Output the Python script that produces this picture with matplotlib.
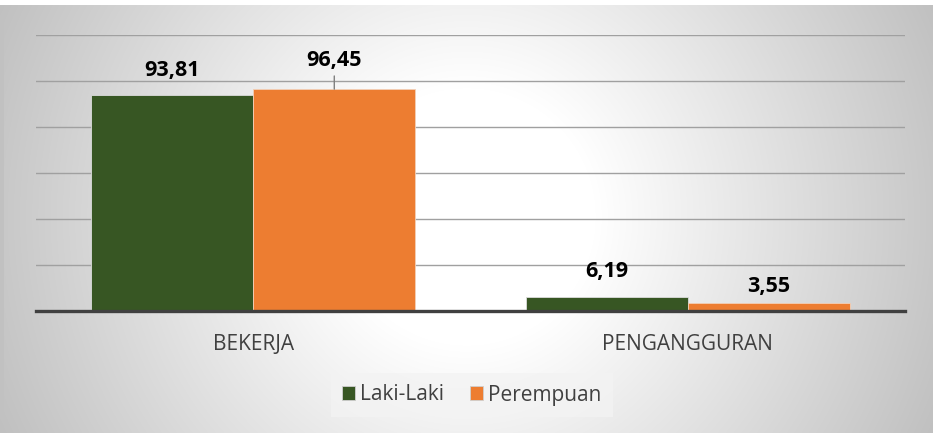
import numpy as np
import matplotlib
matplotlib.use("Agg")
import matplotlib.pyplot as plt

# ---- data ----
categories = ["BEKERJA", "PENGANGGURAN"]
series_names = ["Laki-Laki", "Perempuan"]
laki = [93.81, 6.19]
perempuan = [96.45, 3.55]
laki_labels = ["93,81", "6,19"]
perempuan_labels = ["96,45", "3,55"]

colors = ["#375623", "#ED7D31"]

W, H = 933, 433
fig = plt.figure(figsize=(W / 100, H / 100), dpi=100)

# ---- radial gradient background ----
bg = fig.add_axes([0, 0, 1, 1], zorder=0)
yy, xx = np.mgrid[0:H, 0:W]
cx, cy = W / 2, H / 2
r = np.sqrt((xx - cx) ** 2 + (yy - cy) ** 2) / np.sqrt(cx ** 2 + cy ** 2)
t = np.clip((r - 0.25) / 0.75, 0, 1)
val = (255 - 63 * t) / 255.0
img = np.dstack([val, val, val])
img[:5, :, :] = 1.0
img[5:, :4, :] = np.minimum(img[5:, :4, :], 0.76)
bg.imshow(img, aspect="auto", extent=[0, W, H, 0])
bg.set_axis_off()

# ---- main axes ----
left, right = 36 / W, 905 / W
bottom, top = (H - 311) / H, (H - 35) / H
ax = fig.add_axes([left, bottom, right - left, top - bottom], zorder=1)
ax.set_facecolor("none")

x = np.arange(len(categories))
bw = 0.373
b1 = ax.bar(x - bw / 2, laki, bw, color=colors[0], edgecolor="#dcdcdc",
            linewidth=0.6, label=series_names[0], zorder=3)
b2 = ax.bar(x + bw / 2, perempuan, bw, color=colors[1], edgecolor="#f2d0b8",
            linewidth=0.6, label=series_names[1], zorder=3)

ax.set_xlim(-0.5, 1.5)
ax.set_ylim(0, 120)
ax.set_yticks(np.arange(0, 121, 20))
ax.yaxis.grid(True, color="#a0a0a0", linewidth=1.0, zorder=0)
ax.tick_params(axis="y", left=False, labelleft=False)
ax.tick_params(axis="x", bottom=False, pad=13)
ax.set_xticks(x)
ax.set_xticklabels(categories, fontfamily="Open Sans", fontsize=15, color="#404040")
for s in ["top", "right", "left"]:
    ax.spines[s].set_visible(False)
ax.spines["bottom"].set_color("#404040")
ax.spines["bottom"].set_linewidth(2.4)
ax.spines["bottom"].set_zorder(4)

font_lbl = dict(fontfamily="Open Sans", fontsize=15.5, fontweight="bold", color="#000000",
                ha="center", va="center")
laki_offsets = [17.5, 18.5]
per_offsets = [20.5, 12]
for rect, txt, off in zip(b1, laki_labels, laki_offsets):
    ax.annotate(txt, (rect.get_x() + rect.get_width() / 2, rect.get_height()),
                xytext=(0, off), textcoords="offset points", **font_lbl)
for i, (rect, txt, off) in enumerate(zip(b2, perempuan_labels, per_offsets)):
    ax.annotate(txt, (rect.get_x() + rect.get_width() / 2, rect.get_height()),
                xytext=(0, off), textcoords="offset points", **font_lbl)
    if i == 0:
        ax.annotate("", (rect.get_x() + rect.get_width() / 2, rect.get_height()),
                    xytext=(0, 9.5), textcoords="offset points",
                    arrowprops=dict(arrowstyle="-", color="#7f7f7f", lw=1.0,
                                    shrinkA=0, shrinkB=0))

leg = fig.legend(handles=[b1, b2], labels=series_names, loc="center",
                 bbox_to_anchor=(472 / W, (H - 395) / H), ncol=2, frameon=True,
                 prop=dict(family="Open Sans", size=15),
                 handlelength=0.62, handleheight=0.62, handletextpad=0.25,
                 columnspacing=1.25, borderpad=0.55, fancybox=False)
leg.get_frame().set_facecolor("#f3f3f3")
leg.get_frame().set_edgecolor("none")
leg.get_frame().set_alpha(0.8)
for t_ in leg.get_texts():
    t_.set_color("#404040")
for h in leg.legend_handles:
    h.set_edgecolor("#cfcfcf")

fig.savefig("out.png", dpi=100)
